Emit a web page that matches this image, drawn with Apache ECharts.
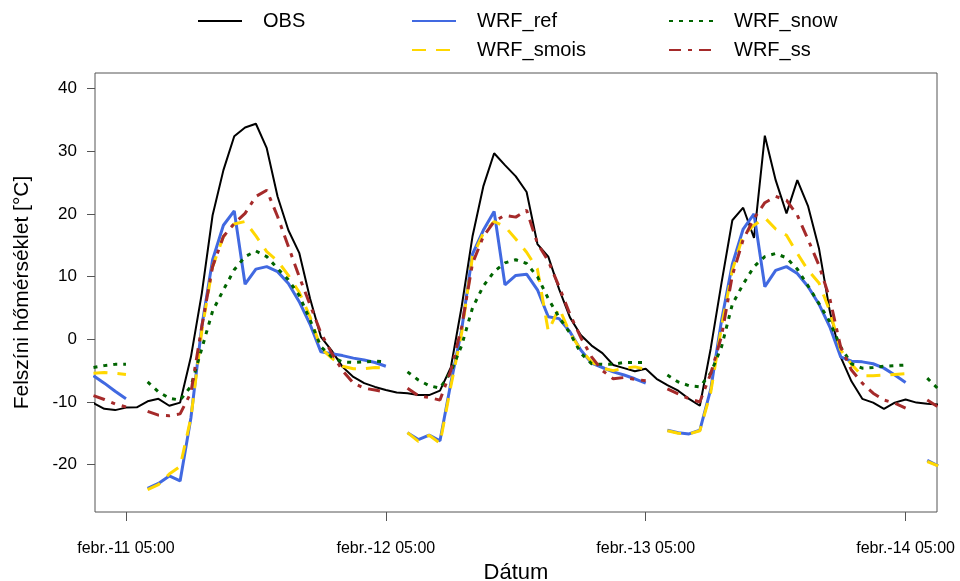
<!DOCTYPE html>
<html>
<head>
<meta charset="utf-8">
<script src="https://cdn.jsdelivr.net/npm/echarts@6/dist/echarts.min.js"></script>
<style>
  html, body { margin: 0; padding: 0; background: #fff; }
  #chart { width: 960px; height: 581px; }
</style>
</head>
<body>
<div id="chart"></div>
<script>
// hours counted from febr.-11 05:00, first value belongs to hour -3
var firstHour = -3;
var tickHours = [0, 24, 48, 72];
var tickLabels = ['febr.-11 05:00', 'febr.-12 05:00', 'febr.-13 05:00', 'febr.-14 05:00'];
var yTicks = [-20, -10, 0, 10, 20, 30, 40];

var obs = [
  -10.2, -11.1, -11.3, -10.9, -10.85,
  -9.9, -9.5, -10.6, -10.1, -2.8, 7.3, 19.8, 27.0, 32.4, 33.8, 34.4, 30.5, 22.8, 17.4, 13.8, 6.5, 0.4, -1.8, -4.4, -6.0, -7.0, -7.6, -8.1, -8.5,
  -8.6, -8.9, -8.9, -8.2, -4.5, 5.2, 16.4, 24.4, 29.7, 27.8, 26.0, 23.5, 15.2, 13.2, 8.0, 3.5, 0.7, -1.0, -2.2, -4.1, -4.6, -5.1, -4.7, -6.3,
  -7.3, -8.2, -9.5, -10.6, -1.5, 9.0, 19.0, 21.0, 16.2, 32.5, 25.4, 20.1, 25.4, 21.2, 14.5, 4.5, -2.8, -6.7, -9.5, -10.1, -11.1, -10.1, -9.6, -10.1,
  -10.3, -10.4
];
var wrfRef = [
  -5.8, -7.0, -8.3, -9.5, null,
  -23.8, -23.0, -21.8, -22.6, -12.5, 2.0, 12.7, 18.2, 20.5, 8.8, 11.2, 11.6, 10.8, 8.9, 6.0, 2.4, -2.0, -2.3, -2.6, -3.0, -3.3, -3.7, -4.3, null,
  -14.9, -16.0, -15.3, -16.2, -7.0, 1.5, 13.6, 17.4, 20.4, 8.7, 10.2, 10.4, 7.9, 3.6, 3.3, 1.2, -1.7, -3.8, -4.5, -5.2, -5.7, -6.3, -7.0, null,
  -14.5, -14.9, -15.1, -14.5, -8.0, 3.0, 12.0, 17.6, 20.0, 8.4, 11.0, 11.6, 10.5, 8.4, 5.6, 2.0, -2.8, -3.5, -3.6, -3.9, -4.6, -5.7, -6.9, null,
  -19.3, -20.2
];
var wrfSmois = [
  -5.4, -5.3, -5.4, -5.6, null,
  -24.0, -23.2, -21.5, -20.3, -12.5, 1.3, 11.6, 16.4, 18.4, 18.8, 16.5, 14.0, 12.5, 10.2, 7.5, 3.6, -1.4, -3.0, -4.3, -4.7, -4.7, -4.5, -4.6, null,
  -14.9, -16.3, -15.3, -16.6, -7.5, 1.0, 13.2, 16.9, 18.8, 18.0, 16.0, 13.9, 11.2, 1.3, 5.0, 1.0, -1.7, -3.6, -4.6, -5.0, -4.6, -4.4, -4.8, null,
  -14.6, -15.0, -15.1, -14.6, -8.5, 2.0, 11.0, 16.6, 18.2, 19.4, 17.6, 16.6, 13.7, 11.0, 9.0, 4.5, -1.7, -4.0, -5.8, -5.8, -5.7, -5.6, -5.5, null,
  -19.5, -20.2
];
var wrfSnow = [
  -4.5, -4.2, -4.0, -4.0, null,
  -6.8, -8.4, -9.4, -9.7, -7.5, -1.5, 4.5, 7.9, 11.1, 13.2, 14.1, 13.2, 11.3, 9.5, 7.0, 3.1, -1.2, -2.8, -3.6, -3.7, -3.6, -3.5, -3.6, null,
  -5.2, -6.5, -7.4, -7.8, -5.2, -1.0, 5.0, 8.5, 10.8, 12.2, 12.7, 12.1, 10.0, 6.5, 3.5, 1.0, -2.2, -3.9, -4.0, -4.0, -3.7, -3.7, -3.7, null,
  -5.7, -6.8, -7.4, -7.6, -5.4, -1.2, 5.6, 8.8, 11.6, 13.2, 13.7, 13.0, 11.2, 8.5, 5.7, 2.8, -1.2, -3.9, -4.6, -4.5, -4.3, -4.2, -4.1, null,
  -6.2, -7.9
];
var wrfSs = [
  -9.0, -9.6, -10.3, -10.8, null,
  -11.5, -12.1, -12.2, -11.9, -8.5, 2.0, 11.6, 16.4, 18.5, 20.1, 22.8, 23.8, 19.6, 14.8, 10.0, 5.5, 1.0, -2.2, -5.0, -7.0, -7.8, -8.1, -8.4, null,
  -7.8, -9.0, -9.3, -9.7, -5.0, 2.0, 12.1, 16.4, 18.8, 19.8, 19.5, 20.6, 15.3, 12.5, 8.4, 4.0, 0.3, -2.8, -5.0, -6.3, -6.1, -6.4, -6.6, null,
  -7.9, -8.7, -9.5, -10.0, -5.5, 0.5, 10.2, 15.9, 19.3, 21.8, 22.8, 22.2, 19.8, 15.9, 11.8, 6.5, -1.2, -4.9, -7.0, -8.6, -9.7, -10.2, -11.0, null,
  -9.7, -10.8
];

function pairs(values) {
  return values.map(function (v, i) { return [i + firstHour, v]; });
}

var font = 'Liberation Sans, Arial, sans-serif';

function lineSeries(name, values, color, width, dash) {
  return {
    name: name,
    type: 'line',
    data: pairs(values),
    symbol: 'none',
    connectNulls: false,
    clip: true,
    lineStyle: { color: color, width: width, type: dash, cap: 'butt' },
    itemStyle: { color: color },
    emphasis: { disabled: true }
  };
}

function legendBox(name, left, top) {
  return {
    data: [name],
    left: left,
    top: top,
    padding: 0,
    itemWidth: 44,
    itemHeight: 14,
    selectedMode: false,
    itemStyle: { opacity: 0 },
    textStyle: { fontFamily: font, fontSize: 20, color: '#000', padding: [0, 0, 0, 16] }
  };
}

var chart = echarts.init(document.getElementById('chart'));
chart.setOption({
  animation: false,
  backgroundColor: '#fff',
  legend: [
    legendBox('OBS', 197, 11),
    legendBox('WRF_ref', 411, 11),
    legendBox('WRF_snow', 668, 11),
    legendBox('WRF_smois', 411, 40),
    legendBox('WRF_ss', 668, 40)
  ],
  grid: {
    left: 95, top: 73, width: 842, height: 439,
    containLabel: false,
    outerBoundsMode: 'none',
    show: true, borderColor: '#555', borderWidth: 1, backgroundColor: 'transparent'
  },
  xAxis: {
    type: 'value',
    min: -2.86,
    max: 74.9,
    name: 'Dátum',
    nameLocation: 'middle',
    nameGap: 41,
    nameTextStyle: { fontFamily: font, fontSize: 22, color: '#000' },
    axisLine: { show: false, onZero: false },
    splitLine: { show: false },
    axisTick: { show: true, length: 9, customValues: tickHours, lineStyle: { color: '#555' } },
    axisLabel: {
      customValues: tickHours,
      margin: 29,
      fontFamily: font, fontSize: 16, color: '#000',
      formatter: function (v) { return tickLabels[tickHours.indexOf(v)]; }
    }
  },
  yAxis: {
    type: 'value',
    min: -27.56,
    max: 42.5,
    name: 'Felszíni hőmérséklet [°C]',
    nameLocation: 'middle',
    nameRotate: 90,
    nameGap: 62,
    nameTextStyle: { fontFamily: font, fontSize: 21, color: '#000' },
    axisLine: { show: false, onZero: false },
    splitLine: { show: false },
    axisTick: { show: true, length: 8, customValues: yTicks, lineStyle: { color: '#555' } },
    axisLabel: { customValues: yTicks, margin: 18, fontFamily: font, fontSize: 17, color: '#000' }
  },
  series: [
    lineSeries('OBS', obs, '#000000', 2, 'solid'),
    lineSeries('WRF_ref', wrfRef, '#4169E1', 3, 'solid'),
    lineSeries('WRF_smois', wrfSmois, '#FFD700', 3, [14, 10]),
    lineSeries('WRF_snow', wrfSnow, '#006400', 3, [4, 6]),
    lineSeries('WRF_ss', wrfSs, '#A52A2A', 3, [12, 7, 4, 7])
  ]
});
</script>
</body>
</html>
